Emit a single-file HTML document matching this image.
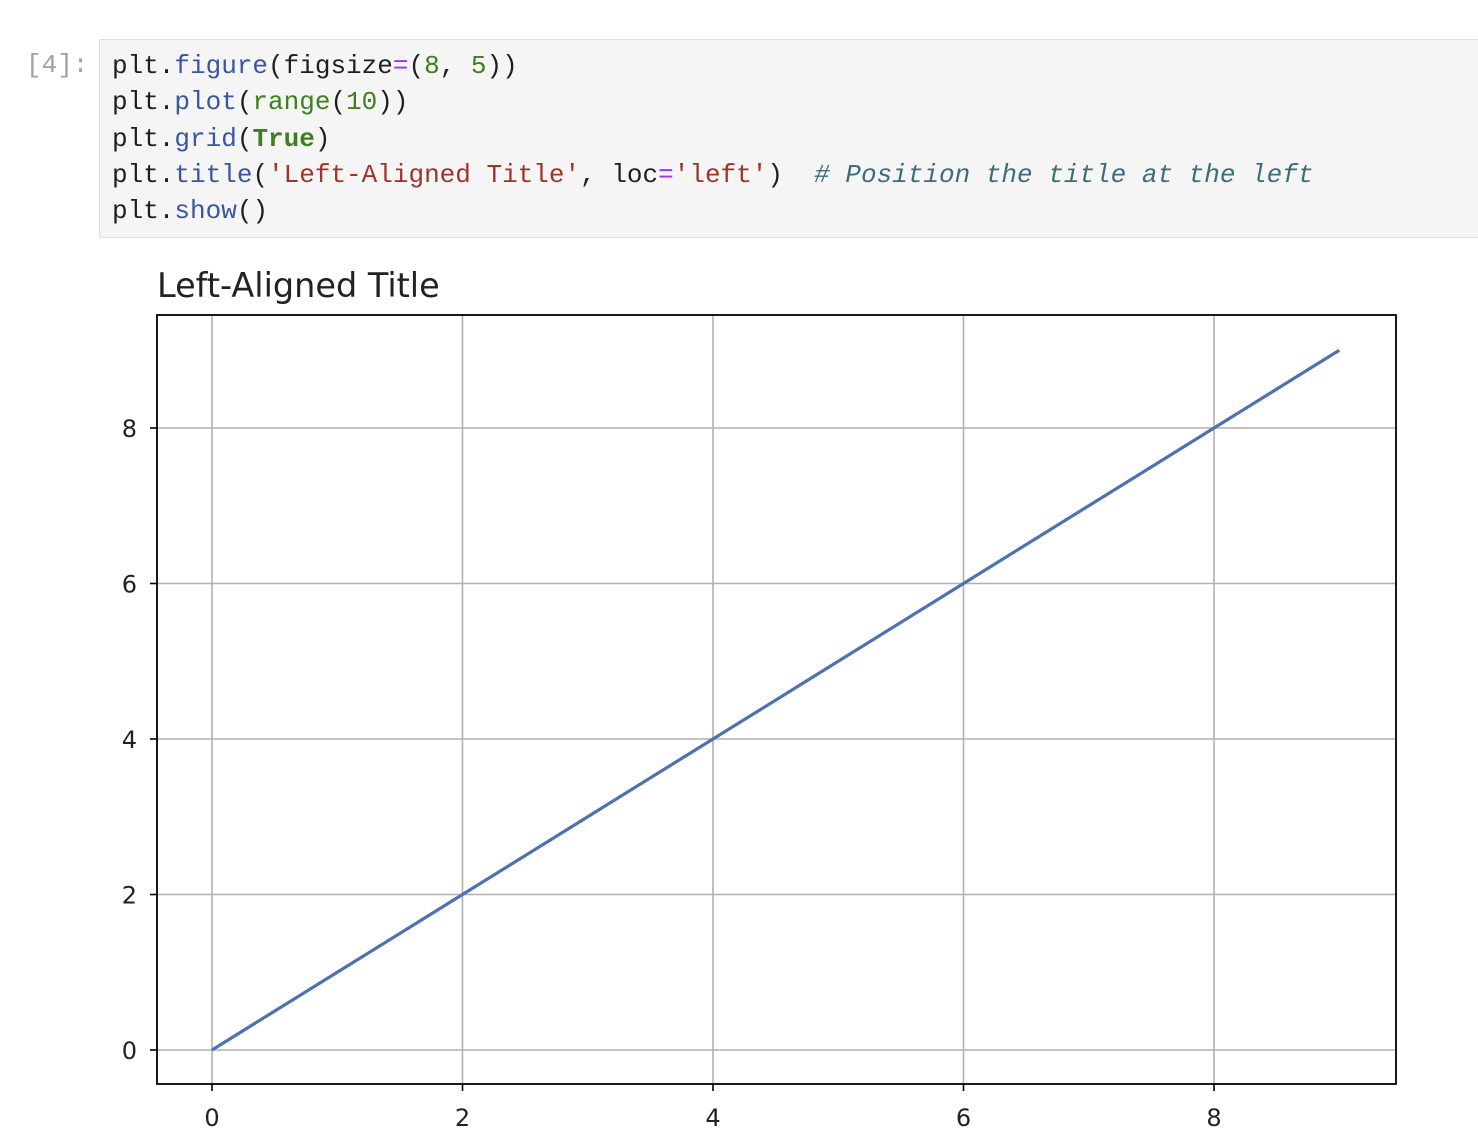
<!DOCTYPE html>
<html><head><meta charset="utf-8">
<style>
body{margin:0;width:1478px;height:1148px;background:#fff;overflow:hidden;position:relative;font-family:"Liberation Sans",sans-serif}
.prompt{position:absolute;left:26px;top:50px;font:26px "Liberation Mono",monospace;color:#a0a0a0}
.cell{position:absolute;left:99px;top:39px;width:1390px;height:199px;background:#f5f5f5;border:1px solid #e0e0e0;box-sizing:border-box}
.code{position:absolute;left:112px;top:48px;font:26px/36.3px "Liberation Mono",monospace;color:#1f1f1f;white-space:pre;margin:0}
.f{color:#3a55a5}.n{color:#3f7f1e}.o{color:#a030ff}.s{color:#a0342a}.k{color:#3f7f1e;font-weight:bold}.c{color:#3d6d78;font-style:italic}
</style></head><body>
<div class="prompt">[4]:</div>
<div class="cell"></div>
<pre class="code">plt.<span class="f">figure</span>(figsize<span class="o">=</span>(<span class="n">8</span>, <span class="n">5</span>))
plt.<span class="f">plot</span>(<span class="n">range</span>(<span class="n">10</span>))
plt.<span class="f">grid</span>(<span class="k">True</span>)
plt.<span class="f">title</span>(<span class="s">'Left-Aligned Title'</span>, loc<span class="o">=</span><span class="s">'left'</span>)  <span class="c"># Position the title at the left</span>
plt.<span class="f">show</span>()</pre>
<svg id="chart" width="1478" height="1148" style="position:absolute;left:0;top:0"></svg>
<script>
const xValues=[0,1,2,3,4,5,6,7,8,9];
const yValues=[0,1,2,3,4,5,6,7,8,9];
const xTicks=[0,2,4,6,8];
const yTicks=[0,2,4,6,8];
const NS="http://www.w3.org/2000/svg";
const svg=document.getElementById('chart');
const L=157,R=1396,T=315,B=1084;
function sx(v){return 212+v*125.25;}
function sy(v){return 1050-v*77.75;}
function mk(tag,attrs,parent){const e=document.createElementNS(NS,tag);for(const k in attrs)e.setAttribute(k,attrs[k]);(parent||svg).appendChild(e);return e;}
const grid=mk('g',{});


xTicks.forEach(t=>{
  const g=mk('line',{x1:sx(t),x2:sx(t),y1:T,y2:B,stroke:'#b0b0b0','stroke-width':1.6},grid);
  
  
  const tk=mk('line',{x1:sx(t),x2:sx(t),y1:B,y2:B+7,stroke:'#000','stroke-width':1.6});
  
  
  const tx=mk('text',{x:sx(t),y:B+42,'text-anchor':'middle','font-size':'24','font-family':'DejaVu Sans, sans-serif',fill:'#222'});
  tx.textContent=t;
  
  
});
yTicks.forEach(t=>{
  const g=mk('line',{x1:L,x2:R,y1:sy(t),y2:sy(t),stroke:'#b0b0b0','stroke-width':1.6},grid);
  
  
  const tk=mk('line',{x1:L-7,x2:L,y1:sy(t),y2:sy(t),stroke:'#000','stroke-width':1.6});
  
  
  const tx=mk('text',{x:L-20,y:sy(t)+9,'text-anchor':'end','font-size':'24','font-family':'DejaVu Sans, sans-serif',fill:'#222'});
  tx.textContent=t;
  
  
});
const line=mk('polyline',{points:xValues.map((x,i)=>sx(x)+','+sy(yValues[i])).join(' '),fill:'none',stroke:'#4c72b0','stroke-width':3.2});


const frame=mk('rect',{x:L,y:T,width:R-L,height:B-T,fill:'none',stroke:'#000','stroke-width':1.8});


const title=mk('text',{x:L,y:297,'font-size':'33.5','font-family':'DejaVu Sans, sans-serif',fill:'#222'});
title.textContent='Left-Aligned Title';


</script>
</body></html>
